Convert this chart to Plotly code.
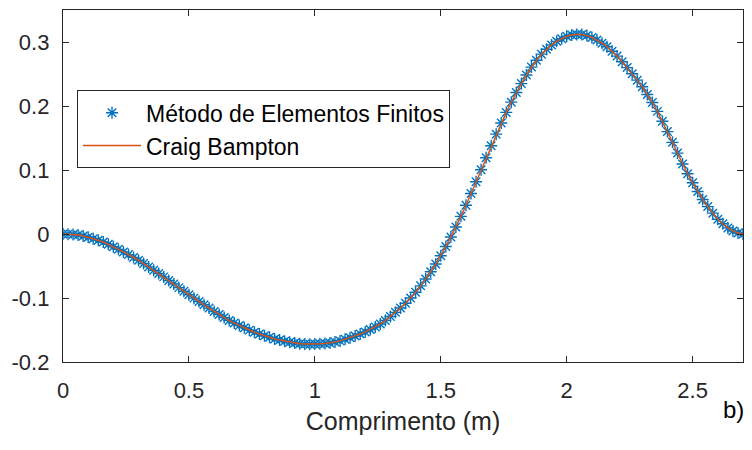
import numpy as np
import plotly.graph_objects as go

# Data (x in m, step 0.02)
x_step = 0.02
fem_values = [
    0.0000, -0.0002, -0.0007, -0.0015, -0.0030, -0.0050, -0.0073, -0.0098, -0.0126, -0.0160,
    -0.0200, -0.0240, -0.0280, -0.0322, -0.0366, -0.0410, -0.0462, -0.0514, -0.0566, -0.0618,
    -0.0670, -0.0726, -0.0782, -0.0838, -0.0894, -0.0950, -0.1002, -0.1054, -0.1106, -0.1158,
    -0.1210, -0.1258, -0.1306, -0.1352, -0.1392, -0.1430, -0.1466, -0.1502, -0.1534, -0.1562,
    -0.1590, -0.1615, -0.1640, -0.1658, -0.1674, -0.1690, -0.1702, -0.1714, -0.1720, -0.1722,
    -0.1720, -0.1716, -0.1712, -0.1704, -0.1688, -0.1670, -0.1646, -0.1622, -0.1595, -0.1563,
    -0.1530, -0.1492, -0.1452, -0.1406, -0.1350, -0.1290, -0.1224, -0.1156, -0.1082, -0.1000,
    -0.0910, -0.0810, -0.0704, -0.0590, -0.0468, -0.0340, -0.0196, -0.0046, 0.0110, 0.0276,
    0.0450, 0.0632, 0.0816, 0.1004, 0.1192, 0.1380, 0.1560, 0.1734, 0.1900, 0.2060,
    0.2210, 0.2350, 0.2484, 0.2608, 0.2714, 0.2810, 0.2886, 0.2954, 0.3010, 0.3052,
    0.3090, 0.3108, 0.3118, 0.3116, 0.3100, 0.3070, 0.3030, 0.2982, 0.2926, 0.2856,
    0.2780, 0.2692, 0.2600, 0.2504, 0.2404, 0.2300, 0.2180, 0.2054, 0.1916, 0.1762,
    0.1600, 0.1432, 0.1264, 0.1094, 0.0942, 0.0800, 0.0664, 0.0540, 0.0428, 0.0326,
    0.0230, 0.0160, 0.0095, 0.0048, 0.0015, 0.0000,
]
cb_values = list(fem_values)
x_values = [round(i * x_step, 2) for i in range(len(fem_values))]

x_tickvals = [0, 0.5, 1, 1.5, 2, 2.5]
x_ticktext = ["0", "0.5", "1", "1.5", "2", "2.5"]
y_tickvals = [-0.2, -0.1, 0, 0.1, 0.2, 0.3]
y_ticktext = ["-0.2", "-0.1", "0", "0.1", "0.2", "0.3"]

series_names = ["Método de Elementos Finitos", "Craig Bampton"]
x_title = "Comprimento (m)"
panel_label = "b)"

FONT = "Liberation Sans, Arial, sans-serif"
AX = "#262626"

fig = go.Figure()
fig.add_trace(go.Scatter(
    x=x_values, y=fem_values, mode="markers", name=series_names[0],
    legendgroup="a",
    marker=dict(symbol="asterisk-open", size=10, color="#0072BD",
                line=dict(color="#0072BD", width=1.4)),
))
fig.add_trace(go.Scatter(
    x=x_values, y=cb_values, mode="lines", name=series_names[1],
    legendgroup="b",
    line=dict(color="#D95319", width=1.5),
))

axis_common = dict(
    showline=True, linecolor=AX, linewidth=1.3, mirror="ticks",
    ticks="inside", ticklen=6, tickwidth=1.2, tickcolor=AX,
    showgrid=False, zeroline=False,
    tickfont=dict(family=FONT, size=22, color=AX),
)

fig.update_xaxes(range=[0, 2.7], tickvals=x_tickvals, ticktext=x_ticktext,
                 title=dict(text=x_title, font=dict(family=FONT, size=25, color=AX), standoff=10),
                 ticklabelstandoff=8, **axis_common)
fig.update_yaxes(range=[-0.2, 0.35], tickvals=y_tickvals, ticktext=y_ticktext,
                 ticklabelstandoff=8, **axis_common)

fig.add_annotation(text=panel_label, xref="paper", yref="paper", x=1.004, y=-0.135,
                   xanchor="right", yanchor="middle", showarrow=False,
                   font=dict(family=FONT, size=24, color="black"))

fig.update_layout(
    width=752, height=450,
    margin=dict(l=63, r=9, t=10, b=88),
    paper_bgcolor="white", plot_bgcolor="white",
    showlegend=True,
    legend=dict(x=0.0206, y=0.772, xanchor="left", yanchor="top",
                bordercolor=AX, borderwidth=1, bgcolor="white",
                font=dict(family=FONT, size=23, color="black"),
                tracegroupgap=0, itemwidth=58),
)

fig.write_html("out.html")
